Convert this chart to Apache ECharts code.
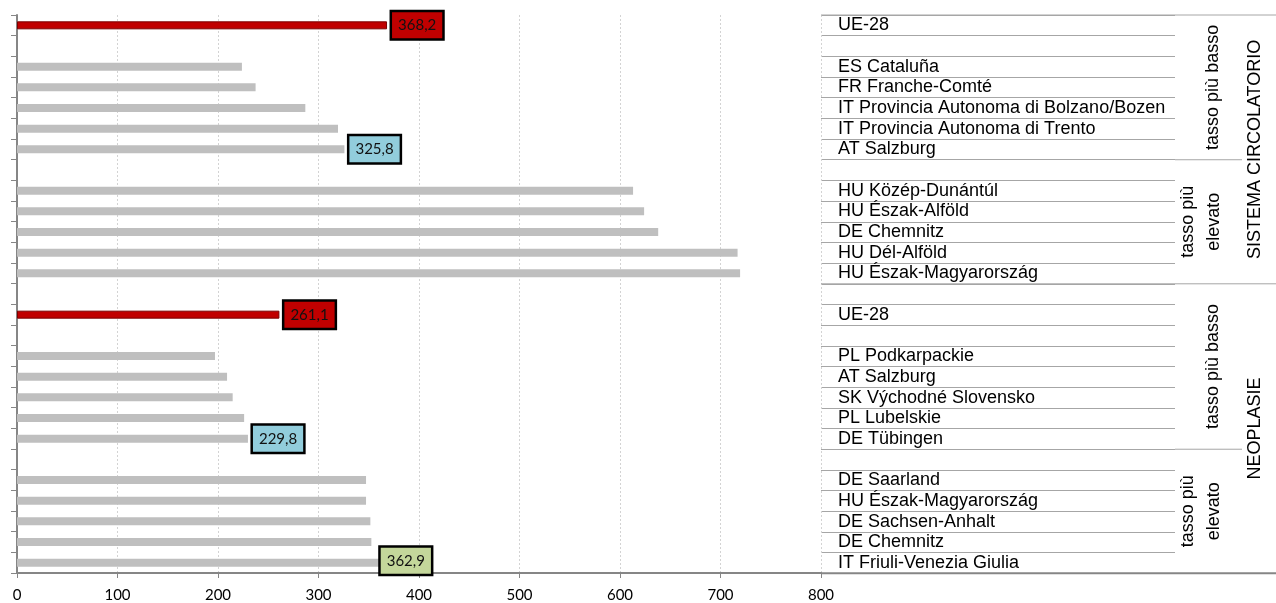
<!DOCTYPE html>
<html>
<head>
<meta charset="utf-8">
<script src="https://cdn.jsdelivr.net/npm/echarts@6/dist/echarts.min.js"></script>
<style>
  html, body { margin: 0; padding: 0; background: #ffffff; }
  #chart { width: 1276px; height: 603px; }
</style>
</head>
<body>
<div id="chart"></div>
<script>
// Region names, top to bottom; empty strings are spacer rows between blocks.
const categories = [
  'UE-28', '',
  'ES Cataluña', 'FR Franche-Comté', 'IT Provincia Autonoma di Bolzano/Bozen',
  'IT Provincia Autonoma di Trento', 'AT Salzburg', '',
  'HU Közép-Dunántúl', 'HU Észak-Alföld', 'DE Chemnitz', 'HU Dél-Alföld',
  'HU Észak-Magyarország', '',
  'UE-28', '',
  'PL Podkarpackie', 'AT Salzburg', 'SK Východné Slovensko', 'PL Lubelskie',
  'DE Tübingen', '',
  'DE Saarland', 'HU Észak-Magyarország', 'DE Sachsen-Anhalt', 'DE Chemnitz',
  'IT Friuli-Venezia Giulia'
];

// Standardised death rates per 100 000 inhabitants ('-' = spacer row).
const rates = [
  368.2, '-',
  223.8, 237.4, 286.9, 319.4, 325.8, '-',
  613, 624, 638, 717, 719.5, '-',
  261.1, '-',
  197, 209, 214.6, 226, 229.8, '-',
  347.3, 347.3, 351.6, 352.6, 362.9
];

// Rows whose value is printed next to the bar.
const labelledRows = [0, 6, 14, 20, 26];

// Value-axis ticks.
const xTicks = [0, 100, 200, 300, 400, 500, 600, 700, 800];

// Cause-of-death blocks and their sub-blocks, as row-boundary ranges.
const sectionNames = ['SISTEMA CIRCOLATORIO', 'NEOPLASIE'];
const sectionBounds = [[0, 13], [13, 27]];
const subNames = ['tasso più basso', 'tasso più\nelevato', 'tasso più basso', 'tasso più\nelevato'];
const subBounds = [[0, 7], [7, 13], [13, 21], [21, 27]];

const NARROW = "'Liberation Sans Narrow', 'Arial Narrow', 'Liberation Sans', Arial, sans-serif";
const NUMERIC = "Lato, 'Open Sans', 'Liberation Sans', sans-serif";
const AXIS_GREY = '#868686';
const RULE_GREY = '#A6A6A6';

function inLowBlock(i) {
  for (let s = 0; s < subBounds.length; s++) {
    if (i >= subBounds[s][0] && i < subBounds[s][1]) return subNames[s].indexOf('basso') >= 0;
  }
  return false;
}

const barData = rates.map(function (v, i) {
  const isEU = categories[i] === 'UE-28';
  const item = {
    value: v,
    itemStyle: isEU
      ? { color: '#C00000', borderColor: '#7A0000', borderWidth: 1 }
      : { color: '#BFBFBF' }
  };
  if (labelledRows.indexOf(i) >= 0) {
    const fill = isEU ? '#C00000' : (inLowBlock(i) ? '#92CDDC' : '#C4D79B');
    item.label = {
      show: true,
      position: 'right',
      distance: 5,
      formatter: function (p) { return p.value.toFixed(1).replace('.', ','); },
      fontFamily: NUMERIC,
      fontSize: 15,
      lineHeight: 16,
      color: '#111111',
      backgroundColor: fill,
      borderColor: '#000000',
      borderWidth: 2.5,
      padding: [5, 6, 5, 6]
    };
    if (i === rates.length - 1) {
      item.label.distance = -1;
      item.label.offset = [0, -2];
    }
  }
  return item;
});

const chart = echarts.init(document.getElementById('chart'), null, { renderer: 'canvas' });

chart.setOption({
  animation: false,
  backgroundColor: '#ffffff',
  grid: [
    { left: 17, top: 15, width: 804, bottom: 29.7 },
    { left: 821, top: 15, width: 354, bottom: 29.7 }
  ],
  xAxis: [
    {
      type: 'value', gridIndex: 0,
      min: xTicks[0], max: xTicks[xTicks.length - 1], interval: xTicks[1] - xTicks[0],
      axisLine: { show: true, lineStyle: { color: AXIS_GREY, width: 2 } },
      axisTick: { show: true, length: 5, lineStyle: { color: AXIS_GREY, width: 1 } },
      axisLabel: { margin: 15, fontFamily: NUMERIC, fontSize: 15, color: '#000000' },
      splitLine: { show: true, lineStyle: { color: '#D3D3D3', width: 1, type: [2, 2] } }
    },
    { type: 'value', gridIndex: 1, show: false }
  ],
  yAxis: [
    {
      type: 'category', gridIndex: 0, data: categories, inverse: true,
      axisLine: { show: true, lineStyle: { color: AXIS_GREY, width: 2 } },
      axisTick: { show: true, interval: 0, length: 6, lineStyle: { color: AXIS_GREY, width: 1 } },
      axisLabel: { show: false, interval: 0 },
      splitLine: { show: false }
    },
    {
      type: 'category', gridIndex: 1, data: categories, inverse: true,
      axisLine: { show: false },
      axisTick: { show: false },
      axisLabel: {
        show: true, inside: true, interval: 0, margin: 17,
        fontFamily: NARROW, fontSize: 18, color: '#000000'
      },
      splitLine: { show: true, interval: 0, lineStyle: { color: RULE_GREY, width: 1 } }
    }
  ],
  series: [
    {
      type: 'bar', xAxisIndex: 0, yAxisIndex: 0,
      barWidth: 8,
      data: barData
    }
  ]
});

// Row boundaries in pixels, taken from the category axis of the label column.
const yAt = function (i) { return chart.convertToPixel({ yAxisIndex: 1 }, i); };
const band = yAt(1) - yAt(0);
const edge = function (k) { return yAt(0) - band / 2 + k * band; };
const colLeft = chart.convertToPixel({ xAxisIndex: 0 }, xTicks[xTicks.length - 1]);

const graphics = [];

// Rules spanning the whole right-hand area: top, between the two blocks, bottom.
[0, sectionBounds[0][1], sectionBounds[1][1]].forEach(function (k) {
  const isBase = k === sectionBounds[1][1];
  graphics.push({
    type: 'line', silent: true,
    shape: { x1: colLeft, y1: edge(k), x2: 1276, y2: edge(k) },
    style: { stroke: isBase ? AXIS_GREY : RULE_GREY, lineWidth: isBase ? 2 : 1 }
  });
});

// Rules separating the sub-blocks, extended under the sub-block captions.
subBounds.forEach(function (b, s) {
  if (s % 2 === 1) {
    graphics.push({
      type: 'line', silent: true,
      shape: { x1: 1175, y1: edge(b[0]), x2: 1242, y2: edge(b[0]) },
      style: { stroke: RULE_GREY, lineWidth: 1 }
    });
  }
});

// Vertical captions of the sub-blocks.
subNames.forEach(function (name, s) {
  const mid = (edge(subBounds[s][0]) + edge(subBounds[s][1])) / 2;
  const twoLines = name.indexOf('\n') >= 0;
  graphics.push({
    type: 'text', silent: true,
    x: twoLines ? 1201 : 1213, y: mid, rotation: Math.PI / 2,
    style: {
      text: name, fill: '#000000',
      font: '18px ' + NARROW, lineHeight: 26,
      align: 'center', verticalAlign: 'middle'
    }
  });
});

// Vertical captions of the cause-of-death blocks.
sectionNames.forEach(function (name, s) {
  const mid = (edge(sectionBounds[s][0]) + edge(sectionBounds[s][1])) / 2;
  graphics.push({
    type: 'text', silent: true,
    x: 1255, y: mid, rotation: Math.PI / 2,
    style: {
      text: name, fill: '#000000',
      font: '18px ' + NARROW,
      align: 'center', verticalAlign: 'middle'
    }
  });
});

chart.setOption({ graphic: graphics });
</script>
</body>
</html>
